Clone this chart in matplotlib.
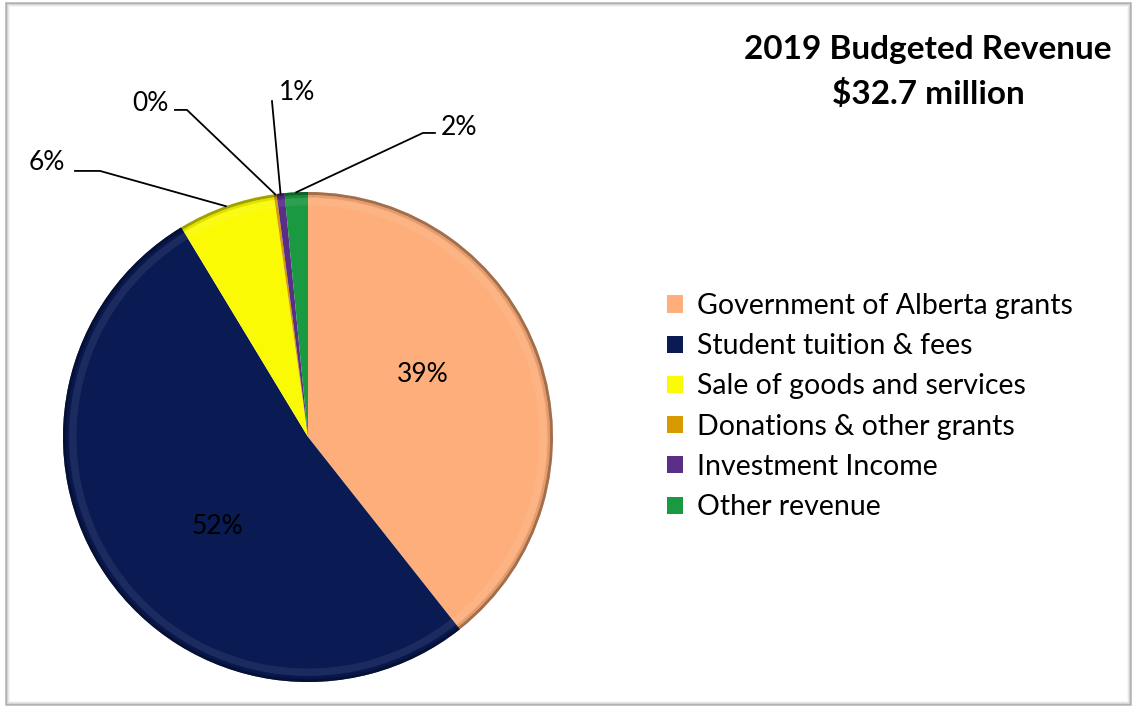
import numpy as np
import matplotlib.pyplot as plt
from matplotlib.patches import Rectangle
from matplotlib.colors import to_rgb

plt.rcParams['font.family'] = ['Lato', 'DejaVu Sans']

# 2019 budgeted revenue by source, $ millions (total 32.7)
sources = ['Government of Alberta grants', 'Student tuition & fees',
           'Sale of goods and services', 'Donations & other grants',
           'Investment Income', 'Other revenue']
amounts = [12.87, 17.00, 2.10, 0.06, 0.17, 0.50]
colors = ['#FDAE7A', '#0A1A52', '#FAFA05', '#D89A00', '#5A2D86', '#1B9940']

total = sum(amounts)
pcts = [100 * a / total for a in amounts]

fig = plt.figure(figsize=(11.32, 7.10), dpi=100)
fig.patch.set_facecolor('white')

# grey chart frame with a soft inner shadow
W, H = 1132, 710
for i, a in enumerate([0.55, 0.3, 0.15, 0.07]):
    fig.add_artist(Rectangle(((6 + i) / W, (5 + i) / H), (1125 - 2 * i) / W, (702 - 2 * i) / H,
                             transform=fig.transFigure, fill=False,
                             edgecolor='#808080', alpha=a, linewidth=1.2))

# pie axes: centre at (308, 437) px, radius 245 px
ax = fig.add_axes([63 / W, 28 / H, 490 / W, 490 / H])
ax.set_aspect('equal')
ax.axis('off')

wedges, _ = ax.pie(amounts, colors=colors, startangle=90, counterclock=False,
                   radius=1.0, wedgeprops=dict(linewidth=0))

# bevel: darker rim on the outside, lighter band just inside it
def shade(c, f):
    r, g, b = to_rgb(c)
    if f < 1:
        return (r * f, g * f, b * f)
    return (r + (1 - r) * (f - 1), g + (1 - g) * (f - 1), b + (1 - b) * (f - 1))

ax.pie(amounts, colors=[shade(c, 0.55) for c in colors], startangle=90, counterclock=False,
       radius=1.0, wedgeprops=dict(width=0.012, linewidth=0, alpha=0.8))
ax.pie(amounts, colors=[shade(c, 0.8) for c in colors], startangle=90, counterclock=False,
       radius=0.988, wedgeprops=dict(width=0.01, linewidth=0, alpha=0.5))
ax.pie(amounts, colors=[shade(c, 1.15) for c in colors], startangle=90, counterclock=False,
       radius=0.975, wedgeprops=dict(width=0.03, linewidth=0, alpha=0.5))
ax.set_xlim(-1, 1)
ax.set_ylim(-1, 1)

labels = ['%.0f%%' % p for p in pcts]

# labels inside the two big slices
inside = {0: (0.469, 0.257), 1: (-0.371, -0.367)}
for i, (x, y) in inside.items():
    ax.text(x, y, labels[i], ha='center', va='center', fontsize=19)

# outside labels: text position and leader line start points
outside = {
    2: ((-1.065, 1.122), [(-0.951, 1.086), (-0.849, 1.086)]),
    3: ((-0.645, 1.363), [(-0.543, 1.335), (-0.494, 1.335)]),
    4: ((-0.045, 1.408), [(-0.147, 1.371)]),
    5: ((0.615, 1.265), [(0.518, 1.241), (0.469, 1.241)]),
}
for i, (txt, pts) in outside.items():
    w = wedges[i]
    mid = np.deg2rad((w.theta1 + w.theta2) / 2)
    edge = (np.cos(mid), np.sin(mid))
    xs = [p[0] for p in pts] + [edge[0]]
    ys = [p[1] for p in pts] + [edge[1]]
    ax.plot(xs, ys, color='black', linewidth=1.3, clip_on=False)
    ax.text(txt[0], txt[1], labels[i], ha='center', va='center', fontsize=19)

fig.text(928 / W, 1 - 49 / H, '2019 Budgeted Revenue', ha='center', va='center',
         fontsize=24, fontweight='bold')
fig.text(928 / W, 1 - 94 / H, '$32.7 million', ha='center', va='center',
         fontsize=24, fontweight='bold')

fig.legend(wedges, sources, loc='upper left', bbox_to_anchor=(667 / W, 1 - 293 / H),
           frameon=False, fontsize=20.5, handlelength=0.55, handleheight=0.55,
           handletextpad=0.5, labelspacing=0.5, borderpad=0, borderaxespad=0)

fig.savefig('out.png', dpi=100)
